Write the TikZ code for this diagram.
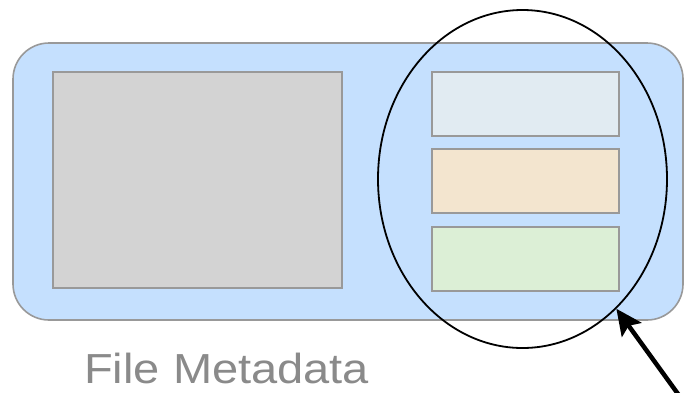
\documentclass[tikz,border=0pt]{standalone}
\usepackage{fontspec}
\setmainfont{Liberation Sans}
\usetikzlibrary{shapes.geometric,arrows.meta}
\definecolor{panelblue}{HTML}{C5E0FE}
\definecolor{panelgray}{HTML}{D3D3D3}
\definecolor{edgegray}{HTML}{999999}
\definecolor{slotblue}{HTML}{E1EBF2}
\definecolor{slottan}{HTML}{F3E5CF}
\definecolor{slotgreen}{HTML}{DCEFD6}
\definecolor{labelgray}{HTML}{8A8A8A}
\tikzset{
  panel/.style={draw=edgegray, line width=1.6pt, rounded corners=36pt, inner sep=0pt,
    fill=panelblue, minimum width=670pt, minimum height=277pt},
  block/.style={draw=edgegray, line width=1.6pt, inner sep=0pt},
  ring/.style={ellipse, draw=black, line width=1.8pt, inner sep=0pt,
    minimum width=289pt, minimum height=338pt},
  pointer/.style={line width=4.5pt, -{Stealth[length=26pt,width=24pt,inset=5pt]}},
  caption/.style={text=labelgray, inner sep=0pt, font=\fontsize{42}{50}\selectfont}
}
\begin{document}
\begin{tikzpicture}[x=1pt,y=-1pt]
  \useasboundingbox (0,0) rectangle (684,392);
  % outer container
  \node[panel] (panel) at (348,181.5) {};
  % large data area
  \node[block, fill=panelgray, minimum width=289pt, minimum height=216pt] (data) at (197.5,180) {};
  % three stacked metadata slots
  \node[block, fill=slotblue,  minimum width=187pt, minimum height=64pt] (slotA) at (525.5,104) {};
  \node[block, fill=slottan,   minimum width=187pt, minimum height=64pt] (slotB) at (525.5,181) {};
  \node[block, fill=slotgreen, minimum width=187pt, minimum height=64pt] (slotC) at (525.5,259) {};
  % highlight ring around the slots
  \node[ring] (ring) at (522.5,179) {};
  % pointer to the ring
  \coordinate (tail) at (684.4,402.8);
  \draw[pointer] (tail) -- (ring);
  % caption
  \node[caption, anchor=base west] (label) at (84,383) {\scalebox{1.12}[1]{File Metadata}};
\end{tikzpicture}
\end{document}
